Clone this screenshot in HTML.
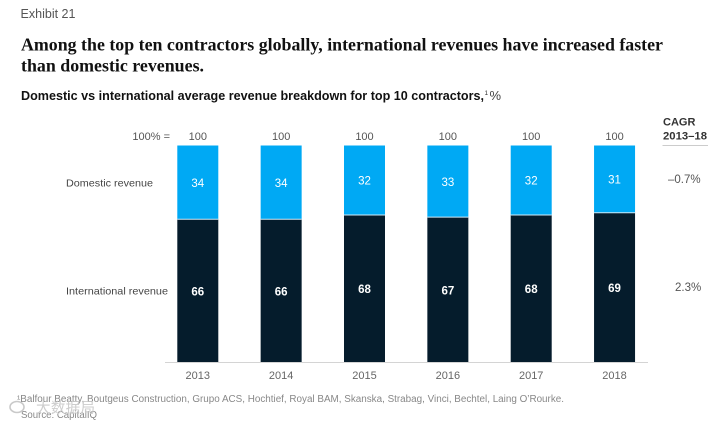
<!DOCTYPE html>
<html lang="en">
<head>
<meta charset="utf-8">
<title>Exhibit 21</title>
<style>
html,body{margin:0;padding:0;background:#fff;}
body{width:716px;height:422px;overflow:hidden;}
svg{display:block;font-family:"Liberation Sans",Arial,sans-serif;}
</style>
</head>
<body>
<svg id="chart" width="716" height="422" viewBox="0 0 716 422" xmlns="http://www.w3.org/2000/svg">
  <rect x="0" y="0" width="716" height="422" fill="#fff"/>
  <text x="20.5" y="18" font-size="12.5" fill="#555" textLength="55" lengthAdjust="spacingAndGlyphs">Exhibit 21</text>
  <text x="21" y="50.5" font-family="'Liberation Serif',serif" font-weight="700" font-size="17.5" fill="#111" textLength="642" lengthAdjust="spacingAndGlyphs">Among the top ten contractors globally, international revenues have increased faster</text>
  <text x="21" y="71.5" font-family="'Liberation Serif',serif" font-weight="700" font-size="17.5" fill="#111" textLength="183" lengthAdjust="spacingAndGlyphs">than domestic revenues.</text>
  <text x="21" y="100" font-size="12.5" font-weight="700" fill="#111" textLength="463" lengthAdjust="spacingAndGlyphs">Domestic vs international average revenue breakdown for top 10 contractors,</text>
  <text x="484.5" y="95" font-size="6.5" fill="#333">1</text>
  <text x="489.5" y="100" font-size="13" fill="#444">%</text>
  <text x="170" y="140" font-size="11" fill="#555" text-anchor="end">100% =</text>
  <text x="66" y="186.5" font-size="10.5" fill="#444" textLength="87" lengthAdjust="spacingAndGlyphs">Domestic revenue</text>
  <text x="66" y="294.5" font-size="10.5" fill="#444" textLength="102" lengthAdjust="spacingAndGlyphs">International revenue</text>
  <text x="663" y="125.5" font-size="11" font-weight="700" fill="#333">CAGR</text>
  <text x="663" y="139.5" font-size="11" font-weight="700" fill="#333" textLength="44" lengthAdjust="spacingAndGlyphs">2013–18</text>
  <line x1="662.5" y1="145.5" x2="708" y2="145.5" stroke="#ccc" stroke-width="1"/>
  <text x="668" y="183" font-size="11.5" fill="#555">–0.7%</text>
  <text x="675" y="291" font-size="11.5" fill="#555">2.3%</text>
  <g id="bars"></g>
  <line x1="165" y1="362.5" x2="648" y2="362.5" stroke="#d4d4d4" stroke-width="1"/>
  <text x="17" y="402" font-size="9.7" fill="#888" textLength="547" lengthAdjust="spacingAndGlyphs">¹Balfour Beatty, Boutgeus Construction, Grupo ACS, Hochtief, Royal BAM, Skanska, Strabag, Vinci, Bechtel, Laing O’Rourke.</text>
  <text x="21" y="418" font-size="9.7" fill="#888" textLength="76" lengthAdjust="spacingAndGlyphs">Source: CapitalIQ</text>
  <g opacity="0.9">
    <ellipse cx="17" cy="407" rx="7" ry="5.5" fill="none" stroke="#c4c4c4" stroke-width="1.6"/>
    <text x="36" y="413" font-family="'Liberation Sans','Noto Sans CJK SC',sans-serif" font-size="14.5" fill="#c8c8c8" textLength="59">大数据局</text>
  </g>
</svg>
<script>
var years = ['2013', '2014', '2015', '2016', '2017', '2018'];
var totals = [100, 100, 100, 100, 100, 100];
var domestic = [34, 34, 32, 33, 32, 31];
var international = [66, 66, 68, 67, 68, 69];

var NS = 'http://www.w3.org/2000/svg';
var group = document.getElementById('bars');
var plotTop = 145.5;
var plotBottom = 362.5;
var firstCenter = 197.8;
var step = 83.35;
var barWidth = 41;

function xCenter(i) { return firstCenter + step * i; }
function yValue(v) { return plotBottom - (plotBottom - plotTop) * v / 100; }

function makeRect(i, fromValue, toValue, fill) {
  var r = document.createElementNS(NS, 'rect');
  r.setAttribute('x', xCenter(i) - barWidth / 2);
  r.setAttribute('y', yValue(toValue));
  r.setAttribute('width', barWidth);
  r.setAttribute('height', yValue(fromValue) - yValue(toValue));
  r.setAttribute('fill', fill);
  group.appendChild(r);
  return r;
}

function makeText(x, y, str, size, fill, weight) {
  var t = document.createElementNS(NS, 'text');
  t.setAttribute('x', x);
  t.setAttribute('y', y);
  t.setAttribute('font-size', size);
  t.setAttribute('fill', fill);
  t.setAttribute('text-anchor', 'middle');
  if (weight) t.setAttribute('font-weight', weight);
  t.textContent = str;
  group.appendChild(t);
  return t;
}

years.forEach(function (year, i) {
  var cx = xCenter(i);
  var intl = international[i];
  var stackTop = intl + domestic[i];

  var intlBar = makeRect(i, 0, intl, '#051c2c');
  
  

  var domBar = makeRect(i, intl, stackTop, '#00a9f4');
  
  

  var sep = document.createElementNS(NS, 'line');
  sep.setAttribute('x1', cx - barWidth / 2);
  sep.setAttribute('x2', cx + barWidth / 2);
  sep.setAttribute('y1', yValue(intl));
  sep.setAttribute('y2', yValue(intl));
  sep.setAttribute('stroke', '#cfeaf8');
  sep.setAttribute('stroke-width', '1');
  
  
  group.appendChild(sep);

  var intlLabel = makeText(cx, (yValue(0) + yValue(intl)) / 2 + 4.5, international[i], 11.5, '#fff', '700');
  
  

  var domLabel = makeText(cx, (yValue(intl) + yValue(stackTop)) / 2 + 4.5, domestic[i], 11.5, '#fff');
  
  

  var totalLabel = makeText(cx, 140, totals[i], 11, '#555');
  
  

  var yearLabel = makeText(cx, 379, year, 11, '#666');
  
  
});
</script>
</body>
</html>
